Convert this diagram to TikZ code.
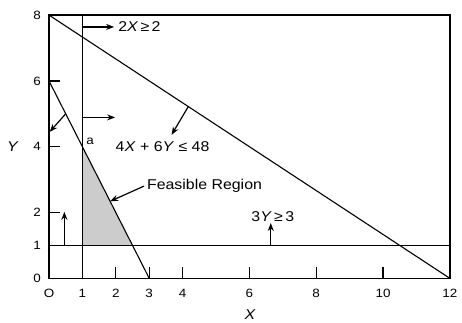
\documentclass[tikz,border=0pt]{standalone}
\usepackage{fontspec}
\setmainfont{Liberation Sans}[FakeStretch=1.12]
\usetikzlibrary{arrows.meta}
\begin{document}
\begin{tikzpicture}[x=33.4pt,y=32.9pt,
  frame/.style={line width=1.5pt},
  cline/.style={line width=1.3pt},
  dline/.style={line width=1.1pt},
  arr/.style={line width=1.2pt,-{Stealth[length=8pt,width=6pt]}},
  tickline/.style={line width=1.3pt},
  lbl/.style={font=\fontsize{14.2}{16}\selectfont, inner sep=0pt},
  ticklbl/.style={font=\fontsize{12}{14}\selectfont, inner sep=0pt}]
\useasboundingbox (-49pt,-44.7pt) rectangle (413pt,278.3pt);
% feasible region
\fill[black!20] (1,1) -- (1,4) -- (2.5,1) -- cycle;
% frame and ticks
\draw[frame] (0,0) rectangle (12,8);
\foreach \y in {2,4,6} \draw[tickline] (0,\y) -- ++(0.33,0);
\foreach \x in {2,3,4,6,8,10} \draw[tickline] (\x,0) -- ++(0,0.35);
\foreach \y in {0,1,2,4,6,8} \node[ticklbl,anchor=east] (yl\y) at ([xshift=-8pt]0,\y) {\y};
\node[ticklbl] (xlO) at ([yshift=-14.7pt]0,0) {O};
\foreach \x in {1,2,3,4,6,8,10,12} \node[ticklbl] (xl\x) at ([yshift=-14.7pt]\x,0) {\x};
\node[lbl] (Xlab) at ([yshift=-36.7pt]6.02,0) {\textit{X}};
\node[lbl] (Ylab) at ([xshift=-36pt]0,4) {\textit{Y}};
% constraint lines
\coordinate (v0) at (1,0); \coordinate (v1) at (1,8);
\coordinate (h0) at (0,1); \coordinate (h1) at (12,1);
\coordinate (d0) at (0,8); \coordinate (d1) at (12,0);
\coordinate (e0) at (0,6); \coordinate (e1) at (3,0);
\draw[cline] (v0) -- (v1);
\draw[cline] (h0) -- (h1);
\draw[dline] (d0) -- (d1);
\draw[dline] (e0) -- (e1);
% labels
\node[lbl,anchor=west] (c1) at (2.07,7.64) {2\textit{X}\,≥\,2};
\node[lbl] (c2) at (3.4,4.0) {4\textit{X} + 6\textit{Y} ≤ 48};
\node[lbl,anchor=west] (fr) at (2.93,2.8) {Feasible Region};
\node[lbl] (c3) at (6.70,1.87) {3\textit{Y}\,≥\,3};
\node[ticklbl] (pa) at (1.23,4.17) {a};
% arrows
\coordinate (s1) at (1,7.64);
\draw[arr] (s1) -- ([xshift=-4pt]c1.west);
\coordinate (s2) at (1,4.89); \coordinate (t2) at (1.98,4.89);
\draw[arr] (s2) -- (t2);
\coordinate (s3) at (0.5,5.0); \coordinate (t3) at (0.02,4.45);
\draw[arr] (s3) -- (t3);
\coordinate (s4) at (4.17,5.22); \coordinate (t4) at (3.67,4.36);
\draw[arr] (s4) -- (t4);
\coordinate (t5) at (1.83,2.34);
\draw[arr] ([xshift=-3pt]fr.west) -- (t5);
\coordinate (s6) at (6.64,1); \coordinate (t6) at (6.64,1.68);
\draw[arr] (s6) -- (t6);
\coordinate (s7) at (0.46,1); \coordinate (t7) at (0.46,2.02);
\draw[arr] (s7) -- (t7);
\end{tikzpicture}
\end{document}
